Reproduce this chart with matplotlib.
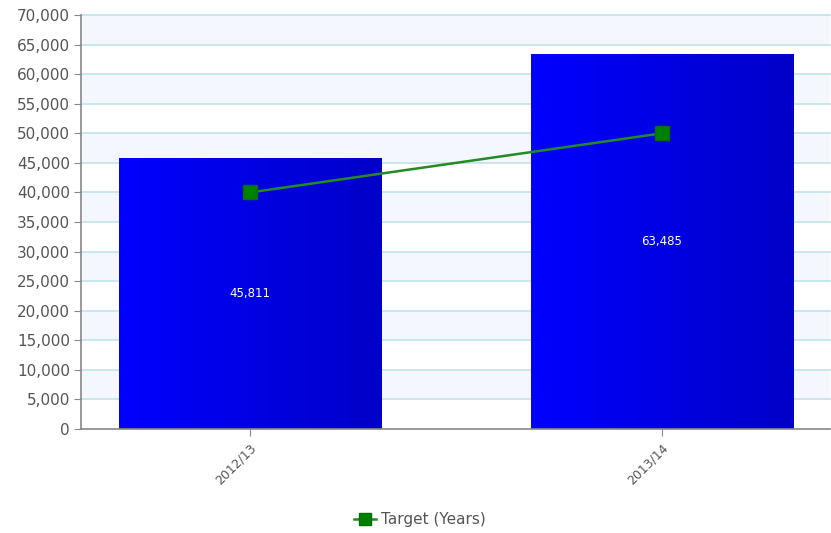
import matplotlib
matplotlib.use("Agg")
from matplotlib import pyplot as plt
import numpy as np
from matplotlib.colors import LinearSegmentedColormap

# данные
years = ['2012/13', '2013/14']
actual = [45811, 63485]
target = [40000, 50000]
y_ticks = list(range(0, 70001, 5000))

fig = plt.figure(figsize=(8.31, 5.33), dpi=100)
ax = fig.add_axes([0.0975, 0.1951, 0.9013, 0.7767])

# чередующиеся полосы фона
for i in range(len(y_ticks) - 1):
    if i % 2 == 1:
        ax.axhspan(y_ticks[i], y_ticks[i + 1], color='#f5f7fe', zorder=0, lw=0)
for v in y_ticks[1:]:
    ax.axhline(v, color='#bfe3ea', lw=1.2, zorder=1, clip_on=False)

x = np.arange(len(years))
bars = ax.bar(x, actual, width=0.636, color='none', edgecolor='none', zorder=2)

# градиент на столбцах
cmap = LinearSegmentedColormap.from_list('bl', ['#0000ff', '#0000c8'])
grad = np.linspace(0, 1, 256).reshape(1, -1)
for b in bars:
    x0, w, h = b.get_x(), b.get_width(), b.get_height()
    im = ax.imshow(grad, cmap=cmap, aspect='auto', extent=[x0, x0 + w, 0, h], zorder=2)
    im.set_clip_path(b)
    ax.text(x0 + w / 2, h / 2, f'{h:,}', color='white', ha='center', va='center',
            fontsize=8.5, zorder=4)

ax.plot(x, target, color='#228b22', lw=1.8, marker='s', markersize=10,
        markerfacecolor='#008000', markeredgecolor='#007000', zorder=5,
        label='Target (Years)')

ax.set_xlim(-0.41, 1.408)
ax.set_ylim(0, 70000)
ax.set_yticks(y_ticks)
ax.set_yticklabels([f'{v:,}' for v in y_ticks], fontsize=11, color='#555555')
ax.set_xticks(x)
ax.set_xticklabels(years, rotation=45, ha='right', rotation_mode='anchor',
                   fontsize=9, color='#555555')
ax.tick_params(axis='y', length=5, color='#888888', pad=3)
ax.tick_params(axis='x', length=5, color='#888888', pad=4)

for s in ['top', 'right']:
    ax.spines[s].set_visible(False)
ax.spines['left'].set_color('#888888')
ax.spines['bottom'].set_color('#888888')
ax.spines['left'].set_linewidth(1.2)
ax.spines['bottom'].set_linewidth(1.2)

leg = fig.legend(loc='center', bbox_to_anchor=(0.505, 0.025), frameon=False,
                 fontsize=11, handlelength=1.5, handletextpad=0.3, markerscale=0.8)
for t in leg.get_texts():
    t.set_color('#555555')

fig.savefig('out.png', dpi=100)
